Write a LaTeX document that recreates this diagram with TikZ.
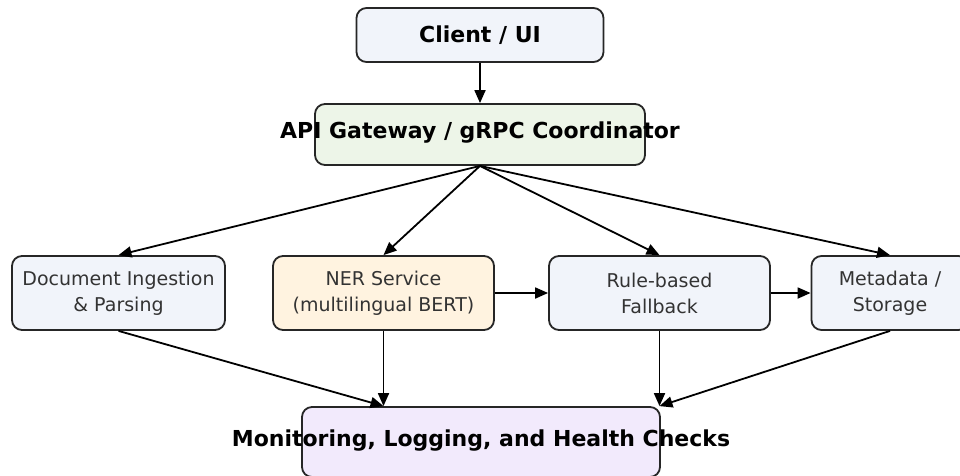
\documentclass[tikz,border=0pt]{standalone}
\usepackage{fontspec}
\setmainfont{DejaVu Sans}
\usetikzlibrary{arrows.meta,positioning}
\usepackage{xcolor}
\definecolor{myplain}{HTML}{F1F4FA}
\definecolor{mygreen}{HTML}{EDF5E8}
\definecolor{myorange}{HTML}{FFF3E0}
\definecolor{mypurple}{HTML}{F2EAFC}
\colorlet{myedge}{black!85}
\tikzset{
  >={Triangle[length=13pt,width=11pt]},
  basic/.style={draw=myedge,line width=1.8pt,rounded corners=10pt,inner sep=0pt,fill=myplain},
  service/.style={basic,minimum width=221pt,minimum height=74pt},
  titletxt/.style={font=\fontsize{22}{26}\selectfont\bfseries,text=black},
  servicetxt/.style={font=\fontsize{19}{26}\selectfont,text=black!80,align=center},
  connect/.style={->,line width=1.8pt,black}
}
\begin{document}
\begin{tikzpicture}[x=1pt,y=-1pt]
  \useasboundingbox (0,0) rectangle (960,475);
  % Top boxes
  \node[basic,minimum width=247pt,minimum height=54pt] (client) at (480,35) {};
  \node[basic,fill=mygreen,minimum width=330pt,minimum height=61pt] (api) at (480,134.5) {};
  % Service row
  \node[service,minimum width=213pt] (doc) at (118.5,293) {};
  \node[service,fill=myorange] (ner) at (383.5,293) {};
  \node[service] (rule) at (659.5,293) {};
  \node[service,minimum width=157pt] (meta) at (890,293) {};
  % Bottom box
  \node[basic,fill=mypurple,minimum width=358pt,minimum height=70pt] (mon) at (481,442) {};
  % Connectors
  \draw[connect] (client) -- (api);
  \foreach \t in {doc,ner,rule,meta}{%
    \draw[connect] (api.south) -- (\t.north);
  }
  \draw[connect] (ner) -- (rule);
  \draw[connect] (rule) -- (meta);
  \foreach \s/\t in {doc/ner,ner/ner,rule/rule,meta/rule}{%
    \draw[connect] (\s.south) -- (\t |- mon.north);
  }
  % Texts
  \node[titletxt] (client_txt) at (client.center) {Client / UI};
  \node[titletxt] (api_txt) at (480,133) {API Gateway / gRPC Coordinator};
  \node[servicetxt] (doc_txt) at (doc.center) {Document Ingestion\\\& Parsing};
  \node[servicetxt] (ner_txt) at (ner.center) {NER Service\\(multilingual BERT)};
  \node[servicetxt] (rule_txt) at (rule.center) {Rule-based\\Fallback};
  \node[servicetxt] (meta_txt) at (meta.center) {Metadata /\\Storage};
  \node[titletxt] (mon_txt) at (481,441) {Monitoring, Logging, and Health Checks};
\end{tikzpicture}
\end{document}
